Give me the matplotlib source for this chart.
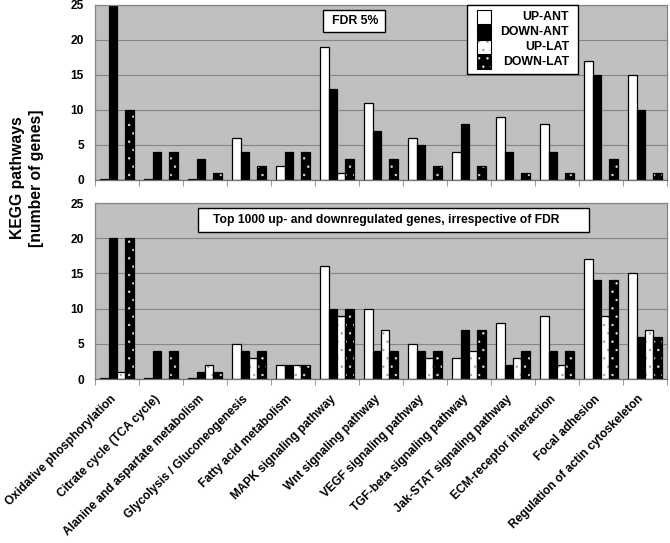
import matplotlib
matplotlib.use("Agg")
import matplotlib.pyplot as plt
from matplotlib.patches import Rectangle
import matplotlib.transforms as mtrans
import numpy as np

plt.rcParams['font.family'] = ['Liberation Sans', 'DejaVu Sans']
plt.rcParams['font.weight'] = 'bold'
plt.rcParams['hatch.linewidth'] = 0.5

categories = ["Oxidative phosphorylation", "Citrate cycle (TCA cycle)",
              "Alanine and aspartate metabolism", "Glycolysis / Gluconeogenesis",
              "Fatty acid metabolism", "MAPK signaling pathway", "Wnt signaling pathway",
              "VEGF signaling pathway", "TGF-beta signaling pathway",
              "Jak-STAT signaling pathway", "ECM-receptor interaction",
              "Focal adhesion", "Regulation of actin cytoskeleton"]
series_names = ["UP-ANT", "DOWN-ANT", "UP-LAT", "DOWN-LAT"]

# Panel 1: FDR 5%
fdr_up_ant   = [0.1, 0.1, 0.1, 6, 2, 19, 11, 6, 4, 9, 8, 17, 15]
fdr_down_ant = [25, 4, 3, 4, 4, 13, 7, 5, 8, 4, 4, 15, 10]
fdr_up_lat   = [0, 0, 0, 0, 0, 1, 0, 0, 0, 0, 0, 0, 0]
fdr_down_lat = [10, 4, 1, 2, 4, 3, 3, 2, 2, 1, 1, 3, 1]

# Panel 2: top 1000 genes
top_up_ant   = [0.1, 0.1, 0.1, 5, 2, 16, 10, 5, 3, 8, 9, 17, 15]
top_down_ant = [20, 4, 1, 4, 2, 10, 4, 4, 7, 2, 4, 14, 6]
top_up_lat   = [1, 0, 2, 3, 2, 9, 7, 3, 4, 3, 2, 9, 7]
top_down_lat = [20, 4, 1, 4, 2, 10, 4, 4, 7, 4, 4, 14, 6]

panel_titles = ["FDR 5%", "Top 1000 up- and downregulated genes, irrespective of FDR"]
yticks = [0, 5, 10, 15, 20, 25]

W, H = 670, 543
fig = plt.figure(figsize=(W / 100, H / 100), dpi=100)

def fx(px):
    return px / W

def fy(py):
    return 1 - py / H

BG = '#c0c0c0'
GRID = '#858585'

styles = [
    dict(face='white', hatch=None, hcol=None),
    dict(face='black', hatch=None, hcol=None),
    dict(face='white', hatch='..', hcol='#a0a0a0'),
    dict(face='black', hatch='..', hcol='#e0e0e0'),
]

def draw_bars(ax, x, vals, st, w):
    if st['hatch']:
        ax.bar(x, vals, w, color=st['face'], edgecolor=st['hcol'], hatch=st['hatch'],
               linewidth=0, zorder=2)
        ax.bar(x, vals, w, fill=False, edgecolor='black', linewidth=0.9, zorder=3)
    else:
        ax.bar(x, vals, w, color=st['face'], edgecolor='black', linewidth=0.9, zorder=2)

def make_panel(rect, data, labels):
    ax = fig.add_axes(rect)
    ax.set_facecolor(BG)
    n = len(categories)
    idx = np.arange(n) + 0.5
    w = 0.19
    for k, (vals, st) in enumerate(zip(data, styles)):
        draw_bars(ax, idx + (k - 1.5) * w, vals, st, w)
    ax.set_xlim(0, n)
    ax.set_ylim(0, 25)
    ax.set_yticks(yticks)
    ax.yaxis.grid(True, color=GRID, linewidth=0.8, zorder=1)
    ax.set_axisbelow(True)
    for s in ax.spines.values():
        s.set_color(GRID)
        s.set_linewidth(0.9)
    ax.spines['bottom'].set_color('#707070')
    ax.set_xticks(np.arange(n + 1), minor=True)
    ax.set_xticks(idx)
    ax.tick_params(axis='x', which='minor', length=4, color=GRID, direction='out')
    ax.tick_params(axis='x', which='major', length=0)
    ax.tick_params(axis='y', length=0, pad=8, labelsize=8.6)
    for t in ax.get_yticklabels():
        t.set_fontweight('bold')
    if labels:
        ax.set_xticklabels(categories, rotation=45, ha='right', va='center',
                           rotation_mode='anchor', fontsize=8.6, fontweight='bold')
        ax.tick_params(axis='x', which='major', pad=13)
        off = mtrans.ScaledTranslation(-3 / 100, 0, fig.dpi_scale_trans)
        for t in ax.get_xticklabels():
            t.set_transform(t.get_transform() + off)
    else:
        ax.set_xticklabels([])
    return ax

ax1 = make_panel([fx(95), fy(179.5), fx(572), 175 / H],
                 [fdr_up_ant, fdr_down_ant, fdr_up_lat, fdr_down_lat], False)
ax2 = make_panel([fx(95), fy(379), fx(572), 176 / H],
                 [top_up_ant, top_down_ant, top_up_lat, top_down_lat], True)

def fig_box(x0, y0, x1, y1, text, size, cx=None):
    fig.patches.append(Rectangle((fx(x0), fy(y1)), fx(x1 - x0), (y1 - y0) / H,
                                 transform=fig.transFigure, facecolor='white',
                                 edgecolor='black', linewidth=1.0, zorder=5))
    if cx is None:
        cx = (x0 + x1) / 2
    fig.text(fx(cx), fy((y0 + y1) / 2), text, ha='center', va='center',
             fontsize=size, fontweight='bold', zorder=6)

fig_box(323, 10, 385, 32, panel_titles[0], 8.8, cx=355)
fig_box(198, 208, 589, 232, panel_titles[1], 8.7, cx=386)

# legend (manual)
fig.patches.append(Rectangle((fx(467), fy(74)), fx(111), 69 / H, transform=fig.transFigure,
                             facecolor='white', edgecolor='black', linewidth=1.0, zorder=5))
row_y = [17, 32, 47, 62]
for name, st, ry in zip(series_names, styles, row_y):
    rx0, rw, rh = 477, 14, 13
    if st['hatch']:
        fig.patches.append(Rectangle((fx(rx0), fy(ry + rh / 2)), fx(rw), rh / H,
                                     transform=fig.transFigure, facecolor=st['face'],
                                     edgecolor=st['hcol'], hatch=st['hatch'], linewidth=0,
                                     zorder=6))
        fig.patches.append(Rectangle((fx(rx0), fy(ry + rh / 2)), fx(rw), rh / H,
                                     transform=fig.transFigure, fill=False,
                                     edgecolor='black', linewidth=0.8, zorder=7))
    else:
        fig.patches.append(Rectangle((fx(rx0), fy(ry + rh / 2)), fx(rw), rh / H,
                                     transform=fig.transFigure, facecolor=st['face'],
                                     edgecolor='black', linewidth=0.8, zorder=6))
    fig.text(fx(569), fy(ry), name, ha='right', va='center', fontsize=8.8,
             fontweight='bold', zorder=7)

fig.text(fx(27), fy(178), "KEGG pathways\n[number of genes]", rotation=90,
         ha='center', va='center', fontsize=11.3, fontweight='bold', linespacing=1.4,
         multialignment='center')

fig.savefig("out.png", dpi=100)
